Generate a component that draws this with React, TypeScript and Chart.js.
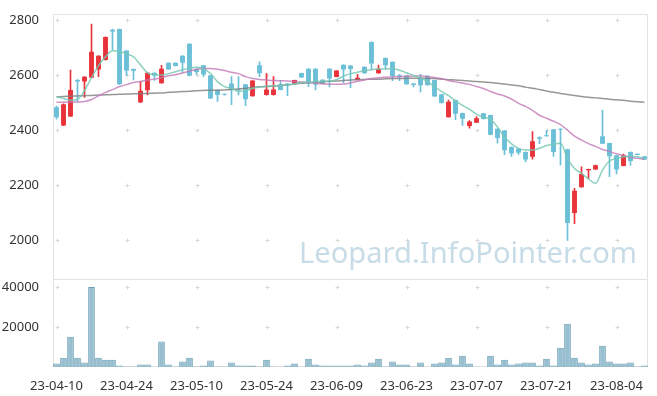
import React, { useEffect, useRef } from "react";
import { Chart, registerables } from "chart.js";

Chart.register(...registerables);

const dates = [
  "23-04-10","23-04-11","23-04-12","23-04-13","23-04-14","23-04-17","23-04-18","23-04-19","23-04-20","23-04-21",
  "23-04-24","23-04-25","23-04-26","23-04-27","23-04-28","23-05-02","23-05-03","23-05-04","23-05-08","23-05-09",
  "23-05-10","23-05-11","23-05-12","23-05-15","23-05-16","23-05-17","23-05-18","23-05-19","23-05-22","23-05-23",
  "23-05-24","23-05-25","23-05-26","23-05-30","23-05-31","23-06-01","23-06-02","23-06-05","23-06-07","23-06-08",
  "23-06-09","23-06-12","23-06-13","23-06-14","23-06-15","23-06-16","23-06-19","23-06-20","23-06-21","23-06-22",
  "23-06-23","23-06-26","23-06-27","23-06-28","23-06-29","23-06-30","23-07-03","23-07-04","23-07-05","23-07-06",
  "23-07-07","23-07-10","23-07-11","23-07-12","23-07-13","23-07-14","23-07-17","23-07-18","23-07-19","23-07-20",
  "23-07-21","23-07-24","23-07-25","23-07-26","23-07-27","23-07-28","23-07-31","23-08-01","23-08-02","23-08-03",
  "23-08-04","23-08-07","23-08-08","23-08-09","23-08-10",
];

const opens = [
  2483,2417,2449,2582,2576,2590,2620,2654,2764,2767, 2689,2622,2501,2545,2608,2570,2644,2644,2670,2713,
  2622,2635,2599,2546,2531,2569,2548,2566,2523,2635, 2527,2527,2566,2569,2568,2607,2623,2623,2583,2623,
  2593,2637,2634,2582,2630,2720,2606,2662,2648,2599, 2597,2569,2590,2597,2582,2530,2447,2509,2462,2415,
  2427,2461,2455,2405,2399,2339,2333,2321,2303,2374, 2381,2403,2404,2331,2099,2193,2254,2257,2378,2353,
  2309,2270,2321,2314,2305,
];
const highs = [
  2487,2495,2618,2584,2594,2785,2670,2738,2767,2767, 2689,2622,2577,2608,2608,2635,2644,2644,2670,2713,
  2622,2635,2599,2546,2531,2594,2594,2566,2580,2648, 2605,2594,2579,2569,2582,2607,2623,2623,2583,2623,
  2616,2637,2634,2602,2630,2720,2636,2662,2648,2602, 2597,2569,2602,2597,2582,2530,2509,2509,2462,2435,
  2449,2461,2455,2405,2399,2339,2333,2321,2395,2376, 2399,2403,2405,2331,2189,2267,2259,2273,2473,2353,
  2309,2313,2321,2314,2305,
];
const lows = [
  2440,2416,2449,2504,2519,2590,2594,2654,2692,2566, 2598,2582,2500,2528,2580,2570,2620,2633,2608,2597,
  2602,2594,2515,2504,2527,2492,2528,2489,2523,2594, 2527,2527,2546,2525,2568,2591,2558,2546,2568,2557,
  2593,2572,2554,2582,2606,2620,2606,2620,2579,2579, 2566,2557,2539,2563,2522,2498,2447,2438,2417,2407,
  2427,2440,2383,2353,2311,2305,2312,2285,2295,2351, 2378,2305,2273,2000,2061,2193,2223,2257,2351,2231,
  2241,2270,2273,2310,2293,
];
const closes = [
  2447,2494,2546,2576,2594,2684,2670,2738,2758,2566, 2616,2615,2543,2608,2597,2623,2620,2633,2644,2597,
  2611,2602,2515,2527,2528,2546,2545,2512,2580,2606, 2547,2547,2546,2564,2582,2591,2569,2565,2568,2587,
  2616,2620,2622,2590,2606,2642,2623,2635,2596,2593, 2566,2564,2563,2563,2522,2498,2503,2459,2441,2431,
  2443,2440,2383,2371,2327,2315,2318,2293,2360,2369, 2378,2321,2401,2063,2180,2241,2259,2273,2351,2305,
  2257,2309,2288,2310,2293,
];
const volumes = [
  1700,4700,15200,4700,2300,40200,4700,3700,3700,700, 300,300,1200,1200,100,12800,1200,300,2800,4700,
  300,800,3300,300,300,2300,700,700,700,300, 3700,300,100,700,1700,100,4200,1200,800,700,
  700,700,700,1200,700,2200,4200,200,2700,1200, 1200,200,2200,50,1700,2200,4700,1200,5700,1700,
  100,50,5700,1200,3700,1200,1700,2200,2200,700, 4200,700,9700,21700,4700,2200,1200,1700,10700,2700,
  1700,1700,2200,200,700,
];
const ma5 = [
  2521,2515,2508,2511,2544,2590,2634,2666,2688,2686, 2677,2666,2637,2608,2601,2600,2605,2612,2619,2624,
  2628,2623,2605,2576,2558,2551,2540,2544,2551,2556, 2560,2561,2561,2564,2567,2573,2574,2576,2576,2578,
  2583,2596,2605,2610,2615,2619,2622,2623,2623,2617, 2608,2598,2589,2576,2558,2540,2525,2506,2490,2475,
  2458,2447,2440,2411,2375,2350,2334,2328,2328,2334, 2344,2349,2352,2297,2261,2243,2223,2207,2255,2288,
  2297,2303,2305,2303,2297,
];
const ma20 = [
  2501,2501,2501,2502,2504,2511,2524,2537,2547,2558, 2565,2573,2576,2582,2585,2590,2597,2601,2607,2614,
  2621,2624,2624,2621,2616,2610,2605,2594,2587,2584, 2582,2580,2579,2578,2576,2575,2573,2570,2568,2566,
  2566,2567,2571,2577,2582,2587,2590,2592,2593,2594, 2595,2596,2597,2594,2591,2587,2580,2575,2571,2566,
  2558,2551,2540,2531,2524,2513,2497,2486,2472,2454, 2443,2432,2420,2400,2378,2364,2351,2341,2330,2323,
  2314,2307,2301,2298,2294,
];
const ma60 = [
  2521,2522,2523,2524,2525,2526,2527,2528,2529,2530, 2531,2532,2532,2533,2534,2535,2537,2538,2540,2541,
  2543,2544,2545,2545,2546,2547,2549,2552,2555,2557, 2558,2560,2562,2564,2567,2570,2572,2574,2575,2577,
  2578,2580,2582,2583,2584,2585,2585,2586,2587,2587, 2588,2588,2589,2588,2587,2585,2583,2582,2580,2578,
  2576,2575,2573,2570,2567,2564,2561,2556,2552,2547, 2542,2537,2533,2529,2526,2522,2519,2517,2515,2512,
  2510,2508,2505,2503,2501,
];

const priceTicks = [2000, 2200, 2400, 2600, 2800];
const volumeTicks = [20000, 40000];
const xTickEvery = 10;
const watermark = "Leopard.InfoPointer.com";

const UP = "#e8333a";
const DOWN = "#6bc0d8";
const FONT = '"Noto Sans", "DejaVu Sans", sans-serif';

const decorPlugin = {
  id: "decor",
  beforeDatasetsDraw(chart: any) {
    const { ctx } = chart;
    const x = chart.scales.x;
    const y = chart.scales.y;
    const yv = chart.scales.yv;
    ctx.save();
    // watermark
    ctx.font = `30px ${FONT}`;
    const w = ctx.measureText(watermark).width;
    const size = (30 * 338) / w;
    ctx.font = `${size}px ${FONT}`;
    ctx.fillStyle = "#c8dce8";
    ctx.textAlign = "right";
    ctx.textBaseline = "alphabetic";
    ctx.fillText(watermark, x.right - 11, y.bottom - 16);
    // plus marks
    ctx.strokeStyle = "#d8d8d8";
    ctx.lineWidth = 1;
    const plus = (px: number, py: number) => {
      const cx = Math.round(px) + 0.5;
      const cy = Math.round(py) + 0.5;
      ctx.beginPath();
      ctx.moveTo(cx - 2, cy);
      ctx.lineTo(cx + 2, cy);
      ctx.moveTo(cx, cy - 2);
      ctx.lineTo(cx, cy + 2);
      ctx.stroke();
    };
    for (let i = 0; i < dates.length; i += xTickEvery) {
      const px = x.getPixelForValue(i);
      priceTicks.forEach((v) => plus(px, y.getPixelForValue(v)));
      volumeTicks.forEach((v) => plus(px, yv.getPixelForValue(v)));
    }
    // borders
    ctx.strokeStyle = "#e2e2e2";
    const l = Math.round(x.left) + 0.5;
    const r = Math.round(x.right) - 0.5;
    const t1 = Math.round(y.top) + 0.5;
    const b1 = Math.round(y.bottom) + 0.5;
    const b2 = Math.round(yv.bottom) - 0.5;
    ctx.beginPath();
    ctx.rect(l, t1, r - l, b1 - t1);
    ctx.rect(l, b1, r - l, b2 - b1);
    ctx.stroke();
    ctx.restore();
  },
};

export default function App() {
  const ref = useRef<HTMLCanvasElement>(null);
  useEffect(() => {
    const colors = opens.map((o, i) => (closes[i] >= o ? UP : DOWN));
    const wicks = lows.map((l, i) => [l, highs[i]]);
    const bodies = opens.map((o, i) => [o, closes[i]]);
    const tickFont = { family: FONT, size: 13 };
    const chart = new Chart(ref.current as HTMLCanvasElement, {
      type: "bar",
      data: {
        labels: dates,
        datasets: [
          {
            type: "line",
            label: "MA5",
            data: ma5,
            yAxisID: "y",
            borderColor: "rgba(120,200,180,0.85)",
            borderWidth: 1.5,
            pointRadius: 0,
            cubicInterpolationMode: "monotone",
            order: 0,
          },
          {
            type: "line",
            label: "MA20",
            data: ma20,
            yAxisID: "y",
            borderColor: "rgba(195,120,185,0.8)",
            borderWidth: 1.5,
            pointRadius: 0,
            cubicInterpolationMode: "monotone",
            order: 0,
          },
          {
            type: "line",
            label: "MA60",
            data: ma60,
            yAxisID: "y",
            borderColor: "rgba(125,125,125,0.8)",
            borderWidth: 1.5,
            pointRadius: 0,
            cubicInterpolationMode: "monotone",
            order: 0,
          },
          {
            type: "bar",
            label: "body",
            data: bodies as any,
            yAxisID: "y",
            backgroundColor: colors,
            barPercentage: 0.7,
            categoryPercentage: 1,
            grouped: false,
            minBarLength: 1,
            order: 1,
          },
          {
            type: "bar",
            label: "wick",
            data: wicks as any,
            yAxisID: "y",
            backgroundColor: colors,
            barThickness: 1,
            grouped: false,
            order: 2,
          },
          {
            type: "bar",
            label: "volume",
            data: volumes,
            yAxisID: "yv",
            backgroundColor: "#98bfcf",
            borderColor: "#6b9eb6",
            borderWidth: 1,
            barPercentage: 0.95,
            categoryPercentage: 1,
            grouped: false,
            order: 3,
          },
        ] as any,
      },
      options: {
        animation: false,
        responsive: false,
        maintainAspectRatio: false,
        layout: { padding: { top: 10, left: 0, right: 9, bottom: 0 } },
        plugins: { legend: { display: false }, tooltip: { enabled: false } },
        scales: {
          x: {
            type: "category",
            offset: true,
            grid: { display: false },
            border: { display: false },
            ticks: {
              autoSkip: false,
              maxRotation: 0,
              minRotation: 0,
              padding: 3,
              color: "#333",
              font: tickFont,
              callback: (_v: any, i: number) => (i % xTickEvery === 0 ? dates[i] : ""),
            },
            afterFit: (s: any) => {
              s.height = 29;
            },
          },
          y: {
            type: "linear",
            position: "left",
            stack: "main",
            stackWeight: 3,
            weight: 2,
            min: 1861,
            max: 2822,
            grid: { display: false },
            border: { display: false },
            ticks: { padding: 6, color: "#333", font: tickFont, callback: (v: any) => String(v) },
            afterBuildTicks: (s: any) => {
              s.ticks = priceTicks.map((v) => ({ value: v }));
            },
            afterFit: (s: any) => {
              s.width = 53;
            },
          },
          yv: {
            type: "linear",
            position: "left",
            stack: "main",
            stackWeight: 1,
            weight: 1,
            min: 0,
            max: 44350,
            grid: { display: false },
            border: { display: false },
            ticks: { padding: 6, color: "#333", font: tickFont, callback: (v: any) => String(v) },
            afterBuildTicks: (s: any) => {
              s.ticks = volumeTicks.map((v) => ({ value: v }));
            },
            afterFit: (s: any) => {
              s.width = 53;
            },
          },
        } as any,
      },
      plugins: [decorPlugin],
    });
    return () => chart.destroy();
  }, []);
  return (
    <div style={{ position: "fixed", left: 0, top: 0, width: 657, height: 396, background: "#fff" }}>
      <canvas ref={ref} width={657} height={396} style={{ display: "block", width: 657, height: 396 }} />
    </div>
  );
}
